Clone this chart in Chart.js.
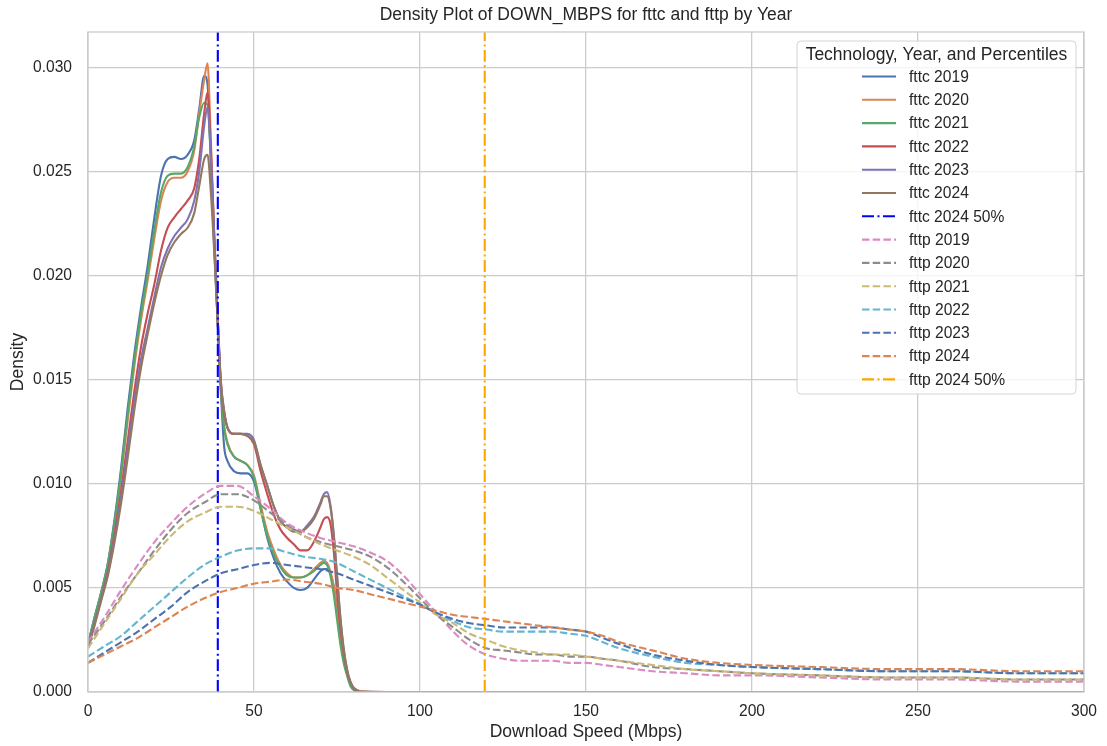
<!DOCTYPE html>
<html>
<head>
<meta charset="utf-8">
<script src="https://cdn.jsdelivr.net/npm/chart.js@4.4.1/dist/chart.umd.min.js"></script>
<style>
  html, body { margin: 0; padding: 0; background: #fff; }
  canvas { display: block; }
</style>
</head>
<body>
<canvas id="densityCanvas" width="1107" height="746"></canvas>
<script>
// speed grid (Mbps) for the fttc curves
const fttcSpeed = [0, 2, 4, 6, 8, 10, 12, 14, 16, 18, 20, 22, 24, 26, 28, 30, 32, 33.5, 35, 36, 37, 38, 39, 40, 41, 42, 44, 46, 48, 50,
  52, 54, 56, 58, 60, 62, 64, 66, 68, 70, 71, 72, 73, 74, 75, 76, 77, 78, 79, 80, 82, 90, 150, 300];

const fttc2019 = [0.0023, 0.0036, 0.0048, 0.0062, 0.0083, 0.0108, 0.0137, 0.0163, 0.0185, 0.0205, 0.0228, 0.0248, 0.0256, 0.0257, 0.0256, 0.0258, 0.0265, 0.0280, 0.0296, 0.0292, 0.0255, 0.0215, 0.0180, 0.0145, 0.0118, 0.0111, 0.0106, 0.0105, 0.0105, 0.0101,
  0.0088, 0.0074, 0.0064, 0.0057, 0.0053, 0.0050, 0.0049, 0.0050, 0.0054, 0.0058, 0.0059, 0.0059, 0.0057, 0.0051, 0.0040, 0.0027, 0.0016, 0.0009, 0.0004, 0.0002, 0.00003, 0, 0, 0];
const fttc2020 = [0.0022, 0.0035, 0.0047, 0.0060, 0.0080, 0.0104, 0.0131, 0.0157, 0.0179, 0.0198, 0.0218, 0.0236, 0.0245, 0.0247, 0.0247, 0.0250, 0.0260, 0.0278, 0.0294, 0.0302, 0.0265, 0.0220, 0.0182, 0.0147, 0.0128, 0.0120, 0.0113, 0.0111, 0.0109, 0.0104,
  0.0090, 0.0077, 0.0068, 0.0061, 0.0057, 0.0055, 0.0055, 0.0056, 0.0059, 0.0062, 0.0063, 0.0062, 0.0058, 0.0051, 0.0040, 0.0027, 0.0016, 0.0009, 0.0004, 0.0002, 0.00003, 0, 0, 0];
const fttc2021 = [0.0023, 0.0036, 0.0048, 0.0062, 0.0082, 0.0106, 0.0134, 0.0160, 0.0182, 0.0201, 0.0222, 0.0240, 0.0248, 0.0249, 0.0249, 0.0252, 0.0262, 0.0276, 0.0283, 0.0282, 0.0255, 0.0215, 0.0180, 0.0146, 0.0127, 0.0119, 0.0113, 0.0111, 0.0109, 0.0103,
  0.0088, 0.0075, 0.0066, 0.0060, 0.0056, 0.0055, 0.0055, 0.0056, 0.0058, 0.0061, 0.0062, 0.0061, 0.0056, 0.0047, 0.0035, 0.0023, 0.0014, 0.0008, 0.0003, 0.0001, 0, 0, 0, 0];
const fttc2022 = [0.0022, 0.0033, 0.0045, 0.0058, 0.0076, 0.0097, 0.0121, 0.0145, 0.0166, 0.0182, 0.0196, 0.0212, 0.0223, 0.0228, 0.0232, 0.0236, 0.0242, 0.0256, 0.0278, 0.0288, 0.0262, 0.0220, 0.0182, 0.0148, 0.0134, 0.0127, 0.0124, 0.0124, 0.0123, 0.0119,
  0.0106, 0.0095, 0.0085, 0.0078, 0.0074, 0.0071, 0.0068, 0.0068, 0.0072, 0.0079, 0.0083, 0.0084, 0.0081, 0.0068, 0.0048, 0.0031, 0.0019, 0.0010, 0.0005, 0.0002, 0, 0, 0, 0];
const fttc2023 = [0.0022, 0.0033, 0.0045, 0.0057, 0.0074, 0.0094, 0.0117, 0.0140, 0.0160, 0.0175, 0.0190, 0.0204, 0.0213, 0.0219, 0.0223, 0.0227, 0.0236, 0.0250, 0.0272, 0.0281, 0.0258, 0.0220, 0.0183, 0.0150, 0.0135, 0.0127, 0.0124, 0.0124, 0.0124, 0.0121,
  0.0109, 0.0099, 0.0089, 0.0082, 0.0079, 0.0078, 0.0077, 0.0080, 0.0084, 0.0091, 0.0095, 0.0096, 0.0090, 0.0076, 0.0056, 0.0036, 0.0021, 0.0011, 0.0005, 0.0002, 0, 0, 0, 0];
const fttc2024 = [0.0021, 0.0032, 0.0044, 0.0056, 0.0072, 0.0091, 0.0113, 0.0136, 0.0156, 0.0172, 0.0187, 0.0200, 0.0210, 0.0216, 0.0220, 0.0223, 0.0230, 0.0243, 0.0256, 0.0258, 0.0240, 0.0212, 0.0180, 0.0149, 0.0135, 0.0127, 0.0124, 0.0124, 0.0123, 0.0120,
  0.0109, 0.0099, 0.0089, 0.0082, 0.0079, 0.0077, 0.0077, 0.0079, 0.0083, 0.0090, 0.0094, 0.0094, 0.0089, 0.0076, 0.0056, 0.0036, 0.0021, 0.0011, 0.0005, 0.0002, 0, 0, 0, 0];

// speed grid (Mbps) for the fttp curves
const fttpSpeed = [0, 5, 10, 15, 20, 25, 30, 35, 40, 45, 50, 55, 60, 65, 70, 75, 80, 85, 90, 95, 100,
  105, 110, 115, 120, 125, 130, 135, 140, 145, 150, 155, 160, 170, 180, 190, 200, 220, 240, 260, 280, 300];

const fttp2019 = [0.0024, 0.0036, 0.0049, 0.0061, 0.0072, 0.0081, 0.0089, 0.0095, 0.0099, 0.0099, 0.0094, 0.0088, 0.0081, 0.0077, 0.0074, 0.0072, 0.0070, 0.0067, 0.0063, 0.0056, 0.0047,
  0.0038, 0.0029, 0.0022, 0.0018, 0.0016, 0.0015, 0.0015, 0.0015, 0.0014, 0.0014, 0.0013, 0.0012, 0.0010, 0.0009, 0.0008, 0.0008, 0.0007, 0.0006, 0.0006, 0.0005, 0.0005];
const fttp2020 = [0.0023, 0.0034, 0.0046, 0.0057, 0.0068, 0.0078, 0.0086, 0.0091, 0.0095, 0.0095, 0.0092, 0.0086, 0.0080, 0.0075, 0.0072, 0.0070, 0.0068, 0.0065, 0.0060, 0.0053, 0.0045,
  0.0037, 0.0031, 0.0025, 0.0021, 0.0020, 0.0019, 0.0018, 0.0018, 0.0017, 0.0017, 0.0016, 0.0015, 0.0012, 0.0011, 0.0010, 0.0009, 0.0008, 0.0007, 0.0007, 0.0006, 0.0006];
const fttp2021 = [0.0021, 0.0033, 0.0045, 0.0057, 0.0066, 0.0075, 0.0082, 0.0086, 0.0089, 0.0089, 0.0087, 0.0083, 0.0079, 0.0075, 0.0071, 0.0068, 0.0065, 0.0061, 0.0055, 0.0049, 0.0043,
  0.0037, 0.0033, 0.0028, 0.0025, 0.0022, 0.0020, 0.0019, 0.0018, 0.0018, 0.0017, 0.0016, 0.0015, 0.0013, 0.0011, 0.0010, 0.0009, 0.0008, 0.0007, 0.0007, 0.0006, 0.0006];
const fttp2022 = [0.0017, 0.0022, 0.0027, 0.0034, 0.0041, 0.0048, 0.0055, 0.0061, 0.0065, 0.0068, 0.0069, 0.0069, 0.0067, 0.0065, 0.0064, 0.0062, 0.0058, 0.0054, 0.0050, 0.0046, 0.0042,
  0.0038, 0.0034, 0.0031, 0.0030, 0.0029, 0.0029, 0.0029, 0.0029, 0.0028, 0.0027, 0.0024, 0.0021, 0.0017, 0.0014, 0.0013, 0.0012, 0.0011, 0.0010, 0.0010, 0.0009, 0.0009];
const fttp2023 = [0.0014, 0.0019, 0.0024, 0.0029, 0.0035, 0.0041, 0.0048, 0.0053, 0.0057, 0.0059, 0.0061, 0.0062, 0.0061, 0.0060, 0.0059, 0.0057, 0.0054, 0.0051, 0.0048, 0.0045, 0.0042,
  0.0038, 0.0035, 0.0033, 0.0032, 0.0031, 0.0031, 0.0031, 0.0031, 0.0030, 0.0029, 0.0026, 0.0023, 0.0018, 0.0015, 0.0013, 0.0012, 0.0011, 0.0010, 0.0010, 0.0009, 0.0009];
const fttp2024 = [0.0014, 0.0018, 0.0022, 0.0026, 0.0031, 0.0036, 0.0041, 0.0045, 0.0048, 0.0050, 0.0052, 0.0053, 0.0054, 0.0053, 0.0052, 0.0050, 0.0049, 0.0047, 0.0045, 0.0043, 0.0041,
  0.0039, 0.0037, 0.0036, 0.0035, 0.0034, 0.0033, 0.0032, 0.0031, 0.0030, 0.0029, 0.0027, 0.0024, 0.0020, 0.0016, 0.0014, 0.0013, 0.0012, 0.0011, 0.0011, 0.0010, 0.0010];

// 50th percentile of 2024 speeds
const fttcMedian2024 = 39.1;
const fttpMedian2024 = 119.5;

const xTicks = [0, 50, 100, 150, 200, 250, 300];
const yTicks = [0, 0.005, 0.010, 0.015, 0.020, 0.025, 0.030];
const xMax = 300;
const yMax = 0.0317;

const FONT = '"Liberation Sans", Arial, sans-serif';
const TEXT = '#262626';
const GRID = '#cccccc';

// seaborn "deep"
const deep = ['#4c72b0', '#dd8452', '#55a868', '#c44e52', '#8172b3', '#937860', '#da8bc3', '#8c8c8c', '#ccb974', '#64b5cd'];
const dashed = [7.5, 3.2];
const dashDot = [12, 3.5, 2, 3.5];

const series = [
  { label: 'fttc 2019', xs: fttcSpeed, ys: fttc2019, color: deep[0], dash: [] },
  { label: 'fttc 2020', xs: fttcSpeed, ys: fttc2020, color: deep[1], dash: [] },
  { label: 'fttc 2021', xs: fttcSpeed, ys: fttc2021, color: deep[2], dash: [] },
  { label: 'fttc 2022', xs: fttcSpeed, ys: fttc2022, color: deep[3], dash: [] },
  { label: 'fttc 2023', xs: fttcSpeed, ys: fttc2023, color: deep[4], dash: [] },
  { label: 'fttc 2024', xs: fttcSpeed, ys: fttc2024, color: deep[5], dash: [] },
  { label: 'fttc 2024 50%', xs: [fttcMedian2024, fttcMedian2024], ys: [0, yMax], color: '#0000ff', dash: dashDot },
  { label: 'fttp 2019', xs: fttpSpeed, ys: fttp2019, color: deep[6], dash: dashed },
  { label: 'fttp 2020', xs: fttpSpeed, ys: fttp2020, color: deep[7], dash: dashed },
  { label: 'fttp 2021', xs: fttpSpeed, ys: fttp2021, color: deep[8], dash: dashed },
  { label: 'fttp 2022', xs: fttpSpeed, ys: fttp2022, color: deep[9], dash: dashed },
  { label: 'fttp 2023', xs: fttpSpeed, ys: fttp2023, color: deep[0], dash: dashed },
  { label: 'fttp 2024', xs: fttpSpeed, ys: fttp2024, color: deep[1], dash: dashed },
  { label: 'fttp 2024 50%', xs: [fttpMedian2024, fttpMedian2024], ys: [0, yMax], color: '#ffa500', dash: dashDot }
];

const datasets = series.map((s, i) => ({
  label: s.label,
  data: s.xs.map((x, k) => ({ x: x, y: s.ys[k] })),
  borderColor: s.color,
  backgroundColor: s.color,
  borderWidth: 2.1,
  borderDash: s.dash,
  pointRadius: 0,
  fill: false,
  cubicInterpolationMode: 'monotone',
  order: -i // later series on top, like matplotlib
}));

// title centred over the plot, plus the frame round it
const frame = {
  id: 'frame',
  afterDatasetsDraw(chart) {
    const a = chart.chartArea, ctx = chart.ctx;
    ctx.save();
    ctx.strokeStyle = GRID;
    ctx.lineWidth = 1.3;
    ctx.strokeRect(a.left, a.top, a.right - a.left, a.bottom - a.top);
    ctx.fillStyle = TEXT;
    ctx.font = '17.5px ' + FONT;
    ctx.textAlign = 'center';
    ctx.textBaseline = 'middle';
    ctx.fillText('Density Plot of DOWN_MBPS for fttc and fttp by Year', (a.left + a.right) / 2, 15);
    ctx.restore();
  }
};

// legend inside the plot, top right
const legendBox = {
  id: 'legendBox',
  afterDraw(chart) {
    const a = chart.chartArea, ctx = chart.ctx;
    const w = 279, h = 353;
    const x0 = a.right - 8 - w, y0 = a.top + 9;
    ctx.save();
    ctx.beginPath();
    ctx.roundRect(x0, y0, w, h, 4);
    ctx.fillStyle = 'rgba(255,255,255,0.8)';
    ctx.fill();
    ctx.strokeStyle = '#d4d4d4';
    ctx.lineWidth = 1;
    ctx.stroke();

    ctx.fillStyle = TEXT;
    ctx.textBaseline = 'middle';
    ctx.textAlign = 'center';
    ctx.font = '17.5px ' + FONT;
    ctx.fillText('Technology, Year, and Percentiles', x0 + w / 2, y0 + 14);

    ctx.textAlign = 'left';
    ctx.font = '15.6px ' + FONT;
    chart.data.datasets.forEach((ds, i) => {
      const y = y0 + 35.5 + i * 23.3;
      ctx.beginPath();
      ctx.setLineDash(ds.borderDash);
      ctx.strokeStyle = ds.borderColor;
      ctx.lineWidth = ds.borderWidth;
      ctx.moveTo(x0 + 65, y);
      ctx.lineTo(x0 + 99, y);
      ctx.stroke();
      ctx.setLineDash([]);
      ctx.fillText(ds.label, x0 + 112, y + 1);
    });
    ctx.restore();
  }
};

const ctx = document.getElementById('densityCanvas').getContext('2d');
const densityChart = new Chart(ctx, {
  type: 'line',
  data: { datasets: datasets },
  plugins: [frame, legendBox],
  options: {
    responsive: false,
    animation: false,
    devicePixelRatio: 1,
    layout: { padding: { left: 0, right: 22, top: 32, bottom: 0 } },
    plugins: {
      legend: { display: false },
      tooltip: { enabled: false },
      title: { display: false }
    },
    scales: {
      x: {
        type: 'linear',
        min: 0,
        max: xMax,
        afterFit: scale => { scale.height = 54; },
        afterBuildTicks: scale => { scale.ticks = xTicks.map(v => ({ value: v })); },
        grid: { color: GRID, lineWidth: 1.3, drawTicks: false },
        border: { display: false },
        ticks: {
          color: TEXT,
          font: { family: FONT, size: 15.6 },
          padding: 10,
          maxRotation: 0,
          callback: v => String(v)
        },
        title: {
          display: true,
          text: 'Download Speed (Mbps)',
          color: TEXT,
          font: { family: FONT, size: 17.5 },
          padding: { top: 0, bottom: 3 }
        }
      },
      y: {
        type: 'linear',
        min: 0,
        max: yMax,
        afterFit: scale => { scale.width = 88; },
        afterBuildTicks: scale => { scale.ticks = yTicks.map(v => ({ value: v })); },
        grid: { color: GRID, lineWidth: 1.3, drawTicks: false },
        border: { display: false },
        ticks: {
          color: TEXT,
          font: { family: FONT, size: 15.6 },
          padding: 16,
          callback: v => Number(v).toFixed(3)
        },
        title: {
          display: true,
          text: 'Density',
          color: TEXT,
          font: { family: FONT, size: 17.5 },
          padding: { top: 8, bottom: 0 }
        }
      }
    }
  }
});
</script>
</body>
</html>
